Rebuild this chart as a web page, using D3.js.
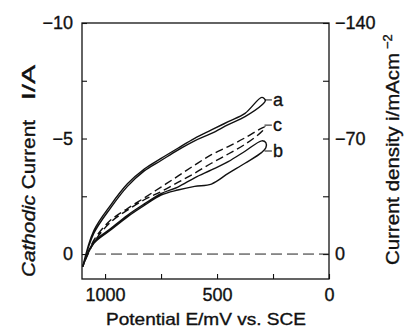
<!DOCTYPE html>
<html>
<head>
<meta charset="utf-8">
<script src="https://cdn.jsdelivr.net/npm/d3@7"></script>
<style>
  body { margin: 0; background: #fff; }
  text { font-family: "Liberation Sans", Arial, Helvetica, sans-serif; fill: #111; stroke: #111; stroke-width: 0.35px; }
</style>
</head>
<body>
<div id="chart"></div>
<script>
// potential grid (mV vs SCE), scan goes 1100 -> 300 and back
var potentials = [1100, 1050, 975, 900, 825, 750, 675, 600, 525, 450, 375, 300];

// cathodic current I/A, forward and reverse branch of each loop
var aFwd = [0.55, -1.02, -2.12, -3.04, -3.68, -4.14, -4.58, -5.01, -5.37, -5.73, -6.09, -6.78];
var aRev = [0.55, -0.9, -2.0, -2.93, -3.6, -4.05, -4.5, -4.9, -5.22, -5.6, -5.95, -6.45];
var bFwd = [0.55, -0.46, -1.04, -1.61, -2.1, -2.55, -2.77, -2.93, -3.03, -3.49, -3.93, -4.4];
var bRev = [0.55, -0.52, -1.1, -1.68, -2.17, -2.62, -2.9, -3.3, -3.64, -4.0, -4.45, -4.9];
var cFwd = [0.55, -0.6, -1.47, -1.97, -2.43, -2.9, -3.37, -3.85, -4.3, -4.65, -5.03, -5.45];
var cRev = [0.55, -0.5, -1.38, -1.9, -2.35, -2.7, -3.1, -3.5, -3.93, -4.33, -4.75, -5.3];

// turning point of each loop
var tipE = {a: [284], b: [282, 282], c: [285]};
var tipI = {a: [-6.65], b: [-4.6, -4.82], c: [-5.5]};

var labelNames = ["a", "c", "b"];
var labelI = [-6.67, -5.58, -4.46];

var leftTicks = [-10, -7.5, -5, -2.5, 0];
var rightTicks = [-140, -105, -70, -35, 0];
var bottomTicks = [1000, 750, 500, 250, 0];

var width = 406, height = 336;
var svg = d3.select("#chart").append("svg")
    .attr("width", width)
    .attr("height", height);

var x = d3.scaleLinear().domain([1103, 0]).range([82, 329]);
var y = d3.scaleLinear().domain([-10, 1.08]).range([23, 279]);
var y2 = d3.scaleLinear().domain([-140, 1.08 * 14]).range([23, 279]);

var fmt = d3.format("d");

// axes, ticks point inward
var gl = svg.append("g").attr("transform", "translate(82,0)")
    .call(d3.axisLeft(y).tickValues(leftTicks).tickSize(-5).tickPadding(9)
        .tickFormat(d => d % 5 === 0 ? fmt(d) : ""));
var gr = svg.append("g").attr("transform", "translate(329,0)")
    .call(d3.axisRight(y2).tickValues(rightTicks).tickSize(-6).tickPadding(6)
        .tickFormat(d => d % 70 === 0 ? fmt(d) : ""));
var gb = svg.append("g").attr("transform", "translate(0,279)")
    .call(d3.axisBottom(x).tickValues(bottomTicks).tickSize(-5).tickPadding(9)
        .tickFormat(d => d % 500 === 0 ? fmt(d) : ""));

[gl, gr, gb].forEach(g => {
  g.select(".domain").remove();
  g.selectAll("line").attr("stroke", "#111").attr("stroke-width", 1.1);
  g.selectAll("text").style("font-size", "18px").style("fill", "#111");
});

svg.append("rect")
    .attr("x", x(1103)).attr("y", y(-10))
    .attr("width", x(0) - x(1103)).attr("height", y(1.08) - y(-10))
    .attr("fill", "none").attr("stroke", "#111").attr("stroke-width", 1.3);

// zero line
svg.append("line")
    .attr("x1", x(1045)).attr("x2", x(0))
    .attr("y1", y(0)).attr("y2", y(0))
    .attr("stroke", "#222").attr("stroke-width", 1)
    .attr("stroke-dasharray", "11,5");

function loop(fwd, rev, key) {
  var pts = potentials.map((e, i) => [e, fwd[i]]);
  tipE[key].forEach((e, i) => pts.push([e, tipI[key][i]]));
  potentials.slice().reverse().forEach((e, i) => pts.push([e, rev[rev.length - 1 - i]]));
  return pts;
}

var line = d3.line()
    .x(d => x(d[0]))
    .y(d => y(d[1]))
    .curve(d3.curveCatmullRom.alpha(0.5));

var curves = [
  {key: "a", pts: loop(aFwd, aRev, "a"), dash: null},
  {key: "b", pts: loop(bFwd, bRev, "b"), dash: null},
  {key: "c", pts: loop(cFwd, cRev, "c"), dash: "8,4"}
];

svg.append("g").selectAll("path")
  .data(curves)
  .join("path")
    .attr("d", d => line(d.pts))
    .attr("fill", "none")
    .attr("stroke", "#111")
    .attr("stroke-width", 1.4)
    .attr("stroke-dasharray", d => d.dash);

// curve labels with short leaders
var lab = svg.append("g").selectAll("g")
  .data(labelNames)
  .join("g");
lab.append("line")
    .attr("x1", x(288)).attr("x2", x(255))
    .attr("y1", (d, i) => y(labelI[i])).attr("y2", (d, i) => y(labelI[i]))
    .attr("stroke", "#111").attr("stroke-width", 1);
lab.append("text")
    .attr("x", x(250))
    .attr("y", (d, i) => y(labelI[i]))
    .attr("dy", "0.32em")
    .style("font-size", "18px")
    .text(d => d);

// axis titles
svg.append("text")
    .attr("x", 206).attr("y", 325)
    .attr("text-anchor", "middle")
    .attr("textLength", 200).attr("lengthAdjust", "spacingAndGlyphs")
    .style("font-size", "17px")
    .text("Potential E/mV vs. SCE");

var lt = svg.append("text")
    .attr("transform", "translate(35,277) rotate(-90)")
    .attr("textLength", 157).attr("lengthAdjust", "spacingAndGlyphs")
    .style("font-size", "18px");
lt.append("tspan").style("font-style", "italic").text("Cathodic");
lt.append("tspan").text(" Current");

svg.append("text")
    .attr("transform", "translate(35,100) rotate(-90)")
    .attr("textLength", 35).attr("lengthAdjust", "spacingAndGlyphs")
    .style("font-size", "18px")
    .text("I/A");

svg.append("text")
    .attr("transform", "translate(399,265) rotate(-90)")
    .attr("textLength", 212).attr("lengthAdjust", "spacingAndGlyphs")
    .style("font-size", "18px")
    .text("Current density i/mAcm");
svg.append("text")
    .attr("transform", "translate(392,49) rotate(-90)")
    .style("font-size", "13px")
    .text("−2");
</script>
</body>
</html>
